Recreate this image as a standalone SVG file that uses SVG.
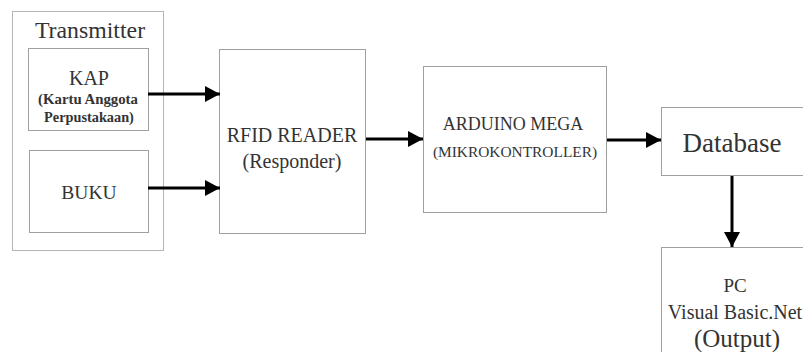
<svg xmlns="http://www.w3.org/2000/svg" width="803" height="352" viewBox="0 0 803 352">
<style>
.box{fill:#fff;stroke:#a0a0a0;stroke-width:1}
.outer{fill:#fff;stroke:#b4b4b4;stroke-width:1}
text{font-family:'Liberation Serif','Times New Roman',Times,'DejaVu Serif',serif;fill:#333;text-anchor:middle}
.b{font-weight:bold}
.conn{stroke:#000;stroke-width:3;fill:none}
</style>
<defs>
<marker id="ah" markerUnits="userSpaceOnUse" markerWidth="16" markerHeight="16" viewBox="0 0 16 16" refX="15" refY="8" orient="auto">
<path d="M0,0 L15,8 L0,16 Z" fill="#000"/>
</marker>
</defs>
<rect width="803" height="352" fill="#fff"/>
<g id="transmitter">
<rect class="outer" x="12.5" y="11.5" width="151" height="239"/>
<text x="90" y="38" font-size="23.8">Transmitter</text>
</g>
<g id="kap">
<rect class="box" x="28.5" y="48.5" width="120" height="82"/>
<text x="89" y="85" font-size="20">KAP</text>
<text class="b" x="88" y="104" font-size="14.8">(Kartu Anggota</text>
<text class="b" x="89" y="122" font-size="14.3">Perpustakaan)</text>
</g>
<g id="buku">
<rect class="box" x="29.5" y="150.5" width="119" height="82"/>
<text x="89" y="199" font-size="19.5">BUKU</text>
</g>
<g id="rfid">
<rect class="box" x="219.5" y="49.5" width="146" height="184"/>
<text x="292" y="142" font-size="20">RFID READER</text>
<text x="292" y="168" font-size="20">(Responder)</text>
</g>
<g id="arduino">
<rect class="box" x="423.5" y="66.5" width="183" height="146"/>
<text x="513" y="130" font-size="18">ARDUINO MEGA</text>
<text x="515" y="157" font-size="15.4">(MIKROKONTROLLER)</text>
</g>
<g id="database">
<rect class="box" x="661.5" y="107.5" width="145" height="68"/>
<text x="732" y="152" font-size="27">Database</text>
</g>
<g id="pc">
<rect class="box" x="661.5" y="247.5" width="145" height="120"/>
<text x="735" y="292" font-size="19">PC</text>
<text x="735" y="319" font-size="20">Visual Basic.Net</text>
<text x="737" y="347" font-size="25">(Output)</text>
</g>
<g id="connectors">
<line class="conn" x1="148" y1="94" x2="220" y2="94" marker-end="url(#ah)"/>
<line class="conn" x1="148" y1="188" x2="220" y2="188" marker-end="url(#ah)"/>
<line class="conn" x1="366" y1="139" x2="423" y2="139" marker-end="url(#ah)"/>
<line class="conn" x1="607" y1="140" x2="661" y2="140" marker-end="url(#ah)"/>
<line class="conn" x1="732" y1="176" x2="732" y2="247" marker-end="url(#ah)"/>
</g>
</svg>
